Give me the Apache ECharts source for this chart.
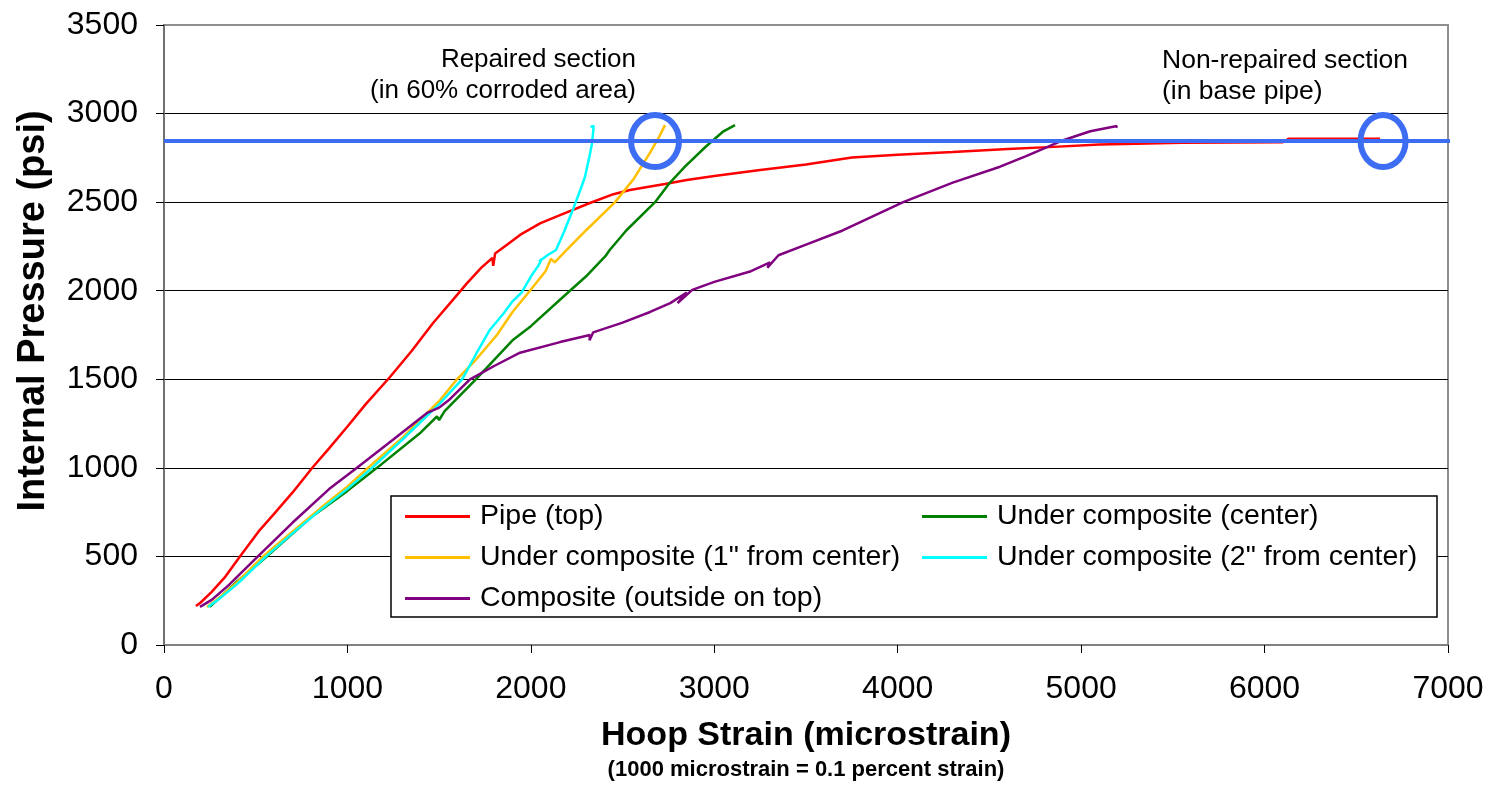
<!DOCTYPE html>
<html>
<head>
<meta charset="utf-8">
<script src="https://cdn.jsdelivr.net/npm/echarts@6/dist/echarts.min.js"></script>
<style>
html,body{margin:0;padding:0;background:#fff;}
#chart{width:1487px;height:791px;}
</style>
</head>
<body>
<div id="chart"></div>
<script>
// ---- Data (strain in microstrain, pressure in psi) ----
const seriesNames = [
  'Pipe (top)',
  'Under composite (center)',
  'Under composite (1" from center)',
  'Under composite (2" from center)',
  'Composite (outside on top)'
];
const pipeTop = [[174,220],[200,240],[260,300],[330,380],[414,500],[523,650],[600,740],[700,860],[812,1005],[900,1110],[998,1231],[1100,1360],[1232,1513],[1350,1660],[1467,1818],[1575,1948],[1650,2040],[1730,2130],[1790,2185],[1795,2140],[1805,2210],[1870,2260],[1941,2315],[2050,2380],[2159,2427],[2322,2495],[2450,2545],[2540,2569],[2731,2602],[2850,2625],[3000,2648],[3250,2682],[3500,2712],[3750,2752],[4000,2768],[4300,2783],[4600,2800],[4850,2812],[5100,2825],[5300,2830],[5550,2835],[6100,2838],[6130,2858],[6630,2858]];
const underCenter = [[250,215],[400,360],[561,500],[800,720],[1000,870],[1161,1000],[1400,1200],[1488,1290],[1500,1270],[1530,1320],[1700,1500],[1900,1720],[2000,1800],[2213,2000],[2300,2080],[2410,2200],[2430,2230],[2520,2340],[2677,2500],[2750,2600],[2840,2700],[2950,2810],[3050,2900],[3113,2935]];
const under1in = [[234,215],[300,265],[400,355],[540,500],[700,640],[850,770],[998,892],[1112,1000],[1300,1170],[1505,1383],[1597,1500],[1700,1610],[1815,1750],[1900,1880],[1995,2000],[2080,2110],[2110,2180],[2130,2160],[2186,2220],[2300,2340],[2459,2500],[2560,2630],[2650,2780],[2700,2870],[2731,2935]];
const under2in = [[240,215],[300,260],[400,345],[556,500],[700,630],[850,760],[998,880],[1134,1000],[1300,1160],[1500,1360],[1625,1500],[1700,1640],[1777,1780],[1850,1870],[1900,1940],[1950,1990],[2000,2080],[2040,2140],[2060,2180],[2045,2165],[2090,2200],[2137,2230],[2180,2330],[2235,2473],[2270,2570],[2295,2642],[2320,2760],[2333,2830],[2340,2900],[2342,2930],[2325,2925]];
const compositeTop = [[196,215],[260,255],[350,335],[512,500],[700,690],[900,880],[1052,1000],[1250,1160],[1434,1310],[1500,1340],[1550,1380],[1668,1500],[1800,1575],[1941,1650],[2159,1710],[2322,1750],[2320,1720],[2340,1765],[2500,1820],[2650,1880],[2760,1930],[2850,1990],[2800,1930],[2880,2005],[3000,2050],[3200,2110],[3304,2160],[3290,2130],[3350,2200],[3500,2260],[3700,2340],[4030,2500],[4300,2610],[4558,2700],[4700,2760],[4890,2845],[5050,2900],[5195,2930],[5190,2920]];
const seriesData = [pipeTop, underCenter, under1in, under2in, compositeTop];
const seriesColors = ['#ff0000','#008000','#ffc000','#00ffff','#800080'];

const referencePressure = 2845;
const referenceLine = [[0, referencePressure],[7040, referencePressure]];
const repairedMark = [2677, referencePressure];
const nonRepairedMark = [6646, referencePressure];

const xTicks = {min: 0, max: 7000, interval: 1000};
const yTicks = {min: 0, max: 3500, interval: 500};

// ---- Chart ----
const FONT = '"Liberation Sans", Arial, sans-serif';
const BLUE = '#3d6df2';
const chart = echarts.init(document.getElementById('chart'), null, {renderer: 'canvas'});

const series = seriesNames.map((name, i) => ({
  name: name,
  type: 'line',
  data: seriesData[i],
  showSymbol: false,
  symbol: 'none',
  lineStyle: {color: seriesColors[i], width: 2.5},
  itemStyle: {color: seriesColors[i]},
  z: 2,
  silent: true,
  animation: false
}));
series.push({
  name: 'ref', type: 'line', data: referenceLine, symbol: 'none', clip: false,
  lineStyle: {color: BLUE, width: 4}, z: 3, silent: true, animation: false
});

const legendCommon = {
  orient: 'vertical',
  top: 502,
  padding: 0,
  itemGap: 12,
  itemWidth: 65,
  itemHeight: 3,
  icon: 'rect',
  selectedMode: false,
  textStyle: {fontFamily: FONT, fontSize: 28.5, color: '#000', padding: [0,0,0,5]},
  z: 6
};

const annotFont = '26px ' + FONT;
const baseGraphic = [
  {type: 'rect', z: 5, shape: {x: 391, y: 496, width: 1046, height: 121},
   style: {fill: '#fff', stroke: '#000', lineWidth: 1.5}, silent: true},
  {type: 'text', z: 5, x: 636, y: 47, style: {text: 'Repaired section', font: annotFont, fill: '#000', align: 'right'}, silent: true},
  {type: 'text', z: 5, x: 636, y: 78, style: {text: '(in 60% corroded area)', font: annotFont, fill: '#000', align: 'right'}, silent: true},
  {type: 'text', z: 5, x: 1162, y: 47, style: {text: 'Non-repaired section', font: '26.5px ' + FONT, fill: '#000', align: 'left'}, silent: true},
  {type: 'text', z: 5, x: 1162, y: 78, style: {text: '(in base pipe)', font: '26.5px ' + FONT, fill: '#000', align: 'left'}, silent: true}
];

const option = {
  backgroundColor: '#fff',
  animation: false,
  textStyle: {fontFamily: FONT},
  grid: {left: 164, right: 39, top: 25, bottom: 146, show: true, borderColor: '#8f8f8f', borderWidth: 2, containLabel: false, outerBoundsMode: 'none'},
  xAxis: {
    type: 'value', min: xTicks.min, max: xTicks.max, interval: xTicks.interval,
    axisLine: {show: true, lineStyle: {color: '#808080', width: 2}},
    axisTick: {show: true, inside: false, length: 8, lineStyle: {color: '#000', width: 1}},
    axisLabel: {fontFamily: FONT, fontSize: 32, color: '#000', margin: 28, formatter: v => String(v)},
    splitLine: {show: false},
    name: '{a|Hoop Strain (microstrain)}\n{b|(1000 microstrain = 0.1 percent strain)}',
    nameLocation: 'middle', nameGap: 71, nameMoveOverlap: false,
    nameTextStyle: {
      align: 'center',
      rich: {
        a: {fontFamily: FONT, fontSize: 34, fontWeight: 'bold', color: '#000', lineHeight: 40, align: 'center'},
        b: {fontFamily: FONT, fontSize: 22, fontWeight: 'bold', color: '#000', lineHeight: 28, align: 'center'}
      }
    }
  },
  yAxis: {
    type: 'value', min: yTicks.min, max: yTicks.max, interval: yTicks.interval,
    axisLine: {show: true, lineStyle: {color: '#707070', width: 2}},
    axisTick: {show: true, inside: false, length: 8, lineStyle: {color: '#000', width: 1}},
    axisLabel: {fontFamily: FONT, fontSize: 32, color: '#000', margin: 26, formatter: v => String(v)},
    splitLine: {show: true, lineStyle: {color: ['#000','#000','#000','#000','#000','#000','#000','#8f8f8f'], width: 1}},
    name: 'Internal Pressure (psi)',
    nameLocation: 'middle', nameGap: 111, nameRotate: 90, nameMoveOverlap: false,
    nameTextStyle: {fontFamily: FONT, fontSize: 38, fontWeight: 'bold', color: '#000', padding: [0,0,0,48]}
  },
  legend: [
    Object.assign({}, legendCommon, {left: 405, data: [seriesNames[0], seriesNames[2], seriesNames[4]]}),
    Object.assign({}, legendCommon, {left: 922, data: [seriesNames[1], seriesNames[3]]})
  ],
  graphic: baseGraphic,
  series: series
};
chart.setOption(option);

// Ellipse markers placed through the chart's own coordinate conversion
const p1 = chart.convertToPixel({gridIndex: 0}, repairedMark);
const p2 = chart.convertToPixel({gridIndex: 0}, nonRepairedMark);
chart.setOption({
  graphic: baseGraphic.concat([
    {type: 'ellipse', z: 4, shape: {cx: p1[0], cy: p1[1], rx: 24, ry: 26},
     style: {fill: 'none', stroke: BLUE, lineWidth: 6}, silent: true},
    {type: 'ellipse', z: 4, shape: {cx: p2[0], cy: p2[1], rx: 22.5, ry: 26},
     style: {fill: 'none', stroke: BLUE, lineWidth: 6}, silent: true}
  ])
});
</script>
</body>
</html>
